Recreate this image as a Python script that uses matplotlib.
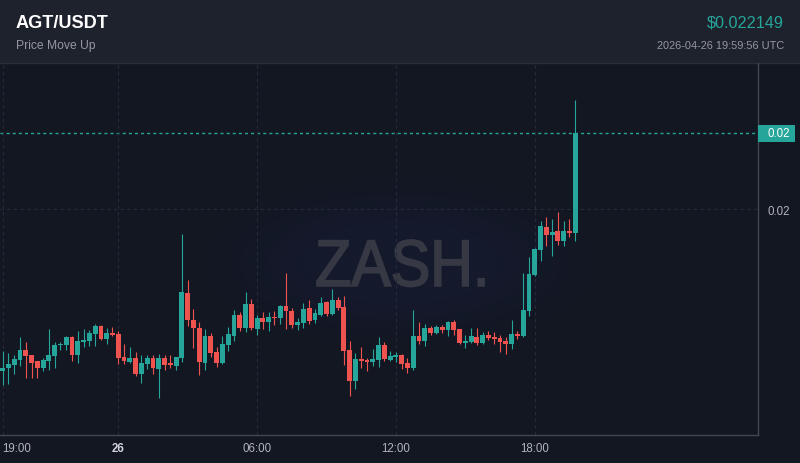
import numpy as np
import pandas as pd
import matplotlib
matplotlib.use('Agg')
import matplotlib.pyplot as plt
import matplotlib.dates as mdates
from matplotlib.textpath import TextPath
from matplotlib.patches import PathPatch, Rectangle
from matplotlib.font_manager import FontProperties
from matplotlib.transforms import Affine2D
from matplotlib.lines import Line2D

plt.rcParams['font.family'] = ['Liberation Sans', 'DejaVu Sans']

# ---------------- data (15-minute candles) ----------------
start_time = '2026-04-25 19:00'
opens = [0.015419, 0.015503, 0.015588, 0.015730, 0.016013, 0.015871, 0.015701, 0.015503, 0.015701, 0.015843,
         0.016154, 0.016154, 0.016381, 0.015871, 0.016239, 0.016267, 0.016466, 0.016692, 0.016324, 0.016494,
         0.016466, 0.015815, 0.015673, 0.015786, 0.015335, 0.015617, 0.015786, 0.015476, 0.015786, 0.015645,
         0.015560, 0.015786, 0.017625, 0.016862, 0.016635, 0.015645, 0.016409, 0.015956, 0.015645, 0.016154,
         0.016409, 0.017002, 0.016635, 0.017313, 0.016607, 0.016918, 0.016805, 0.016946, 0.016918, 0.017257,
         0.017115, 0.016720, 0.016777, 0.017200, 0.016862, 0.017002, 0.017370, 0.017031, 0.017427, 0.017229,
         0.016013, 0.015136, 0.015758, 0.015730, 0.015673, 0.015730, 0.016154, 0.015730, 0.015815, 0.015871,
         0.015645, 0.015503, 0.016409, 0.016267, 0.016635, 0.016494, 0.016664, 0.016579, 0.016805, 0.016607,
         0.016211, 0.016239, 0.016381, 0.016211, 0.016437, 0.016381, 0.016353, 0.016267, 0.016183, 0.016466,
         0.016409, 0.017115, 0.018134, 0.018841, 0.019492, 0.019265, 0.019378, 0.019095, 0.019378, 0.019322]
highs = [0.015984, 0.015928, 0.015871, 0.016381, 0.016239, 0.015871, 0.015701, 0.015786, 0.016607, 0.016239,
         0.016239, 0.016409, 0.016409, 0.016550, 0.016607, 0.016579, 0.016749, 0.016720, 0.016635, 0.016664,
         0.016550, 0.016183, 0.016098, 0.015956, 0.015871, 0.015871, 0.015871, 0.015900, 0.015871, 0.015871,
         0.015815, 0.019294, 0.017993, 0.017172, 0.016805, 0.016607, 0.016494, 0.016098, 0.016409, 0.016664,
         0.017144, 0.017087, 0.017653, 0.017455, 0.017002, 0.017087, 0.017087, 0.017115, 0.017285, 0.018190,
         0.017200, 0.016918, 0.017342, 0.017427, 0.017172, 0.017512, 0.017398, 0.017738, 0.017512, 0.017540,
         0.016267, 0.015928, 0.016098, 0.015786, 0.016041, 0.016381, 0.016239, 0.015984, 0.015956, 0.015900,
         0.015786, 0.017144, 0.016805, 0.016749, 0.016692, 0.016720, 0.016720, 0.016833, 0.016862, 0.016607,
         0.016437, 0.016635, 0.016635, 0.016522, 0.016550, 0.016522, 0.016437, 0.016381, 0.016862, 0.016550,
         0.018190, 0.018643, 0.018897, 0.019661, 0.019774, 0.019718, 0.019915, 0.019661, 0.019718, 0.023083]
lows = [0.015023, 0.015052, 0.015335, 0.015560, 0.015221, 0.015221, 0.015221, 0.015419, 0.015448, 0.015503,
        0.016013, 0.016013, 0.015701, 0.015645, 0.016098, 0.016126, 0.016126, 0.016296, 0.016183, 0.016409,
        0.015617, 0.015617, 0.015645, 0.015278, 0.015080, 0.015476, 0.015335, 0.014655, 0.015448, 0.015503,
        0.015448, 0.015673, 0.016692, 0.016070, 0.015306, 0.015448, 0.015815, 0.015532, 0.015617, 0.015984,
        0.016267, 0.016550, 0.016522, 0.016579, 0.016437, 0.016607, 0.016550, 0.016720, 0.016749, 0.016607,
        0.016635, 0.016579, 0.016635, 0.016749, 0.016777, 0.016974, 0.016974, 0.017002, 0.017144, 0.015588,
        0.014712, 0.014910, 0.015503, 0.015419, 0.015560, 0.015532, 0.015701, 0.015701, 0.015673, 0.015476,
        0.015363, 0.015448, 0.016183, 0.016126, 0.016437, 0.016466, 0.016494, 0.016409, 0.016437, 0.016183,
        0.016070, 0.016211, 0.016154, 0.016183, 0.016296, 0.016183, 0.015956, 0.015900, 0.016041, 0.016324,
        0.016381, 0.016974, 0.018105, 0.018530, 0.018954, 0.018671, 0.018982, 0.018954, 0.019208, 0.019095]
closes = [0.015503, 0.015617, 0.015758, 0.016013, 0.015843, 0.015645, 0.015503, 0.015730, 0.015871, 0.016154,
          0.016183, 0.016381, 0.015871, 0.016267, 0.016296, 0.016494, 0.016692, 0.016324, 0.016494, 0.016437,
          0.015786, 0.015701, 0.015786, 0.015335, 0.015645, 0.015786, 0.015503, 0.015786, 0.015588, 0.015588,
          0.015815, 0.017653, 0.016862, 0.016635, 0.015673, 0.016409, 0.015928, 0.015645, 0.016183, 0.016466,
          0.017002, 0.016635, 0.017313, 0.016635, 0.016918, 0.016805, 0.016946, 0.016918, 0.017257, 0.017115,
          0.016720, 0.016805, 0.017172, 0.016833, 0.017059, 0.017342, 0.017031, 0.017427, 0.017200, 0.015984,
          0.015136, 0.015758, 0.015701, 0.015673, 0.015758, 0.016154, 0.015758, 0.015843, 0.015871, 0.015617,
          0.015503, 0.016409, 0.016267, 0.016635, 0.016494, 0.016664, 0.016579, 0.016805, 0.016579, 0.016211,
          0.016267, 0.016409, 0.016211, 0.016437, 0.016353, 0.016324, 0.016239, 0.016183, 0.016466, 0.016409,
          0.017144, 0.018162, 0.018869, 0.019520, 0.019265, 0.019350, 0.019095, 0.019378, 0.019322, 0.022149]

tick_times = ['2026-04-25 19:00', '2026-04-26 00:00', '2026-04-26 06:00', '2026-04-26 12:00', '2026-04-26 18:00']
tick_labels = ['19:00', '26', '06:00', '12:00', '18:00']
price_ticks = [0.02]
price_tick_labels = ['0.02']

title = 'AGT/USDT'
subtitle = 'Price Move Up'
last_price_text = '$0.022149'
timestamp_text = '2026-04-26 19:59:56 UTC'
watermark = 'ZASH.'

# ---------------- style ----------------
BG = '#131722'
HEADER = '#1e222d'
UP = '#26a69a'
DOWN = '#ef5350'
GRID = '#262b3a'
AXIS = '#434651'
LABEL = '#b2b5be'

W, H = 800, 464
fig = plt.figure(figsize=(W / 100, H / 100), dpi=100, facecolor=BG)

# header band
fig.add_artist(Rectangle((0, 400 / H), 1, 64 / H, transform=fig.transFigure,
                         fc=HEADER, ec='none', zorder=0.2))
fig.add_artist(Line2D([0, 1], [400.5 / H, 400.5 / H], transform=fig.transFigure,
                      color='#2a2e39', lw=1, zorder=0.3))

fig.text(16 / W, 1 - 28.5 / H, title, color='white', fontsize=13.1, fontweight='bold',
         va='baseline', ha='left')
fig.text(16 / W, 1 - 48.5 / H, subtitle, color='#9598a1', fontsize=8.7, va='baseline', ha='left')
fig.text(784 / W, 1 - 27.3 / H, last_price_text, color=UP, fontsize=11.7, va='baseline', ha='right')
fig.text(784 / W, 1 - 48.7 / H, timestamp_text, color='#9598a1', fontsize=7.95, va='baseline', ha='right')

# watermark glow
gw, gh = 380, 170
yy, xx = np.mgrid[0:gh, 0:gw]
r = np.sqrt(((xx - gw / 2) / (gw * 0.42)) ** 2 + ((yy - gh / 2) / (gh * 0.40)) ** 2)
alpha = 0.18 * np.exp(-r ** 4)
glow = np.zeros((gh, gw, 4))
glow[..., 0] = 28 / 255
glow[..., 1] = 36 / 255
glow[..., 2] = 95 / 255
glow[..., 3] = alpha
fig.figimage(glow, xo=400 - gw // 2, yo=H - 264 - gh // 2, zorder=0.5, origin='lower')

# watermark text
tp = TextPath((0, 0), watermark, size=1, prop=FontProperties(family='Liberation Sans'))
ext = tp.get_extents()
sx = 167 / ext.width
sy = 46.5 / ext.height
tr = Affine2D().translate(-ext.x0, -ext.y0).scale(sx, sy).translate(317, H - 287.5)
fig.add_artist(PathPatch(tp, transform=tr, fc='#363943', ec='#363943', lw=1.3, zorder=0.6))

# ---------------- chart ----------------
ax = fig.add_axes([0, 28 / H, 758 / W, 372 / H])
ax.set_facecolor('none')
ax.set_zorder(1)

times = pd.date_range(start_time, periods=len(opens), freq='15min')
xn = mdates.date2num(times.to_pydatetime())
step = 15 / (24 * 60)

o = np.array(opens)
h = np.array(highs)
l = np.array(lows)
c = np.array(closes)

ymin, ymax = 0.013609, 0.024129
ax.set_ylim(ymin, ymax)
ax.set_xlim(xn[0] - 0.45 * step, xn[0] + 130.6 * step)

min_h = (ymax - ymin) / 372 * 1.0
colors = np.where(c >= o, UP, DOWN)
bottoms = np.minimum(o, c)
heights = np.maximum(np.abs(c - o), min_h)

ax.vlines(xn, l, h, colors=colors, lw=0.8, zorder=2)
ax.bar(xn, heights, bottom=bottoms, width=0.84 * step, color=colors, lw=0, zorder=3)

# grid and axes
tnum = mdates.date2num(pd.to_datetime(tick_times).to_pydatetime())
ax.set_xticks(tnum)
ax.set_xticklabels(tick_labels)
ax.set_yticks(price_ticks)
ax.set_yticklabels(price_tick_labels)
ax.yaxis.tick_right()
ax.grid(True, color=GRID, ls=(0, (3, 3)), lw=0.8, zorder=0)
ax.tick_params(axis='x', length=0, pad=5, colors=LABEL, labelsize=8.3)
ax.tick_params(axis='y', length=0, pad=7.2, colors=LABEL, labelsize=8.3)
for i, lab in enumerate(ax.get_xticklabels()):
    if tick_labels[i] == '26':
        lab.set_fontweight('bold')
        lab.set_color('#d1d4dc')
    if i == 0:
        lab.set_ha('left')
        lab.set_x(tnum[0])

for s in ['top', 'left']:
    ax.spines[s].set_visible(False)
for s in ['right', 'bottom']:
    ax.spines[s].set_color(AXIS)
    ax.spines[s].set_linewidth(1)

# last price line and label
ax.axhline(c[-1], color=UP, ls=(0, (2.2, 2.2)), lw=1.0, zorder=1)
fig.canvas.draw()
yd = ax.transData.transform((xn[0], c[-1]))[1]
yf = yd / fig.bbox.height
fig.add_artist(Rectangle((758 / W, yf - 8.5 / H), 37 / W, 17 / H, transform=fig.transFigure,
                         fc=UP, ec='none', zorder=2))
fig.text(778.5 / W, yf, '%.2f' % c[-1], color='white', fontsize=8.3, ha='center', va='center',
         zorder=3)

fig.savefig('out.png', dpi=100, facecolor=BG)
